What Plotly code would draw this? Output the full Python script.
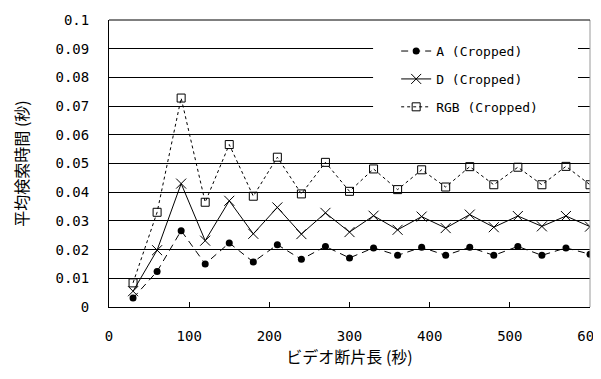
import plotly.graph_objects as go

# ---- data ----
x_vals = [30, 60, 90, 120, 150, 180, 210, 240, 270, 300,
          330, 360, 390, 420, 450, 480, 510, 540, 570, 600]
a_vals = [0.0031, 0.0124, 0.0266, 0.0150, 0.0223, 0.0157, 0.0217, 0.0166, 0.0211, 0.0171,
          0.0206, 0.0180, 0.0208, 0.0180, 0.0208, 0.0180, 0.0211, 0.0180, 0.0206, 0.0184]
d_vals = [0.0055, 0.0198, 0.0430, 0.0231, 0.0370, 0.0255, 0.0347, 0.0254, 0.0328, 0.0261,
          0.0318, 0.0269, 0.0315, 0.0275, 0.0322, 0.0278, 0.0317, 0.0281, 0.0317, 0.0280]
rgb_vals = [0.0084, 0.0330, 0.0728, 0.0365, 0.0566, 0.0386, 0.0522, 0.0394, 0.0504, 0.0403,
            0.0481, 0.0409, 0.0478, 0.0418, 0.0489, 0.0426, 0.0487, 0.0426, 0.0490, 0.0426]
series_names = ["A (Cropped)", "D (Cropped)", "RGB (Cropped)"]
y_tickvals = [0, 0.01, 0.02, 0.03, 0.04, 0.05, 0.06, 0.07, 0.08, 0.09, 0.1]
y_ticktext = ["0", "0.01", "0.02", "0.03", "0.04", "0.05", "0.06", "0.07", "0.08", "0.09", "0.1"]
x_tickvals = [0, 100, 200, 300, 400, 500, 600]
x_ticktext = ["0", "100", "200", "300", "400", "500", "600"]
x_title = "ビデオ断片長 (秒)"
y_title = "平均検索時間 (秒)"

fig = go.Figure()
fig.add_trace(go.Scatter(
    x=x_vals, y=a_vals, name=series_names[0], mode="lines+markers", legendgroup="a",
    line=dict(color="black", width=1, dash="7px,5px"),
    marker=dict(symbol="circle", size=7, color="black")))
fig.add_trace(go.Scatter(
    x=x_vals, y=d_vals, name=series_names[1], mode="lines+markers", legendgroup="d",
    line=dict(color="black", width=1),
    marker=dict(symbol="x-thin", size=10, color="black", line=dict(color="black", width=1))))
fig.add_trace(go.Scatter(
    x=x_vals, y=rgb_vals, name=series_names[2], mode="lines+markers", legendgroup="rgb",
    line=dict(color="black", width=1, dash="3px,3px"),
    marker=dict(symbol="square-open", size=8, color="black", line=dict(color="black", width=1))))

# white area behind legend (covers gridlines like the original)
fig.add_shape(type="rect", xref="paper", yref="paper", x0=0.549, x1=0.975, y0=0.655, y1=0.955,
              fillcolor="white", line=dict(width=0), layer="above")
# grey right border and black top line
fig.add_shape(type="line", xref="paper", yref="paper", x0=1, x1=1, y0=0, y1=1,
              line=dict(color="#999999", width=1), layer="above")
fig.add_shape(type="line", xref="paper", yref="paper", x0=0, x1=1, y0=1, y1=1,
              line=dict(color="black", width=1), layer="above")

fig.update_layout(
    width=601, height=379,
    margin=dict(l=101, r=19, t=12, b=80, autoexpand=False),
    paper_bgcolor="white", plot_bgcolor="white",
    font=dict(family="DejaVu Sans Mono", color="black", size=14),
    showlegend=True,
    legend=dict(x=0.597, y=0.944, xanchor="left", yanchor="top",
                bgcolor="rgba(0,0,0,0)", borderwidth=0,
                font=dict(family="DejaVu Sans Mono", size=13, color="black"),
                tracegroupgap=8),
    xaxis=dict(range=[0, 600], tickvals=x_tickvals, ticktext=x_ticktext, automargin=False,
               showgrid=False, zeroline=False, showline=True, linecolor="black", linewidth=1,
               ticks="inside", ticklen=5, tickcolor="black", ticklabelstandoff=16,
               tickfont=dict(family="DejaVu Sans Mono", size=14),
               title=dict(text=x_title, font=dict(family="Noto Sans CJK JP", size=16), standoff=8)),
    yaxis=dict(range=[0, 0.1], tickvals=y_tickvals, ticktext=y_ticktext, automargin=False,
               showgrid=True, gridcolor="black", gridwidth=1,
               zeroline=False, showline=True, linecolor="black", linewidth=1,
               ticks="", ticklabelstandoff=16,
               tickfont=dict(family="DejaVu Sans Mono", size=14),
               title=dict(text=y_title, font=dict(family="Noto Sans CJK JP", size=16), standoff=22)),
)

fig.write_html("out.html")
